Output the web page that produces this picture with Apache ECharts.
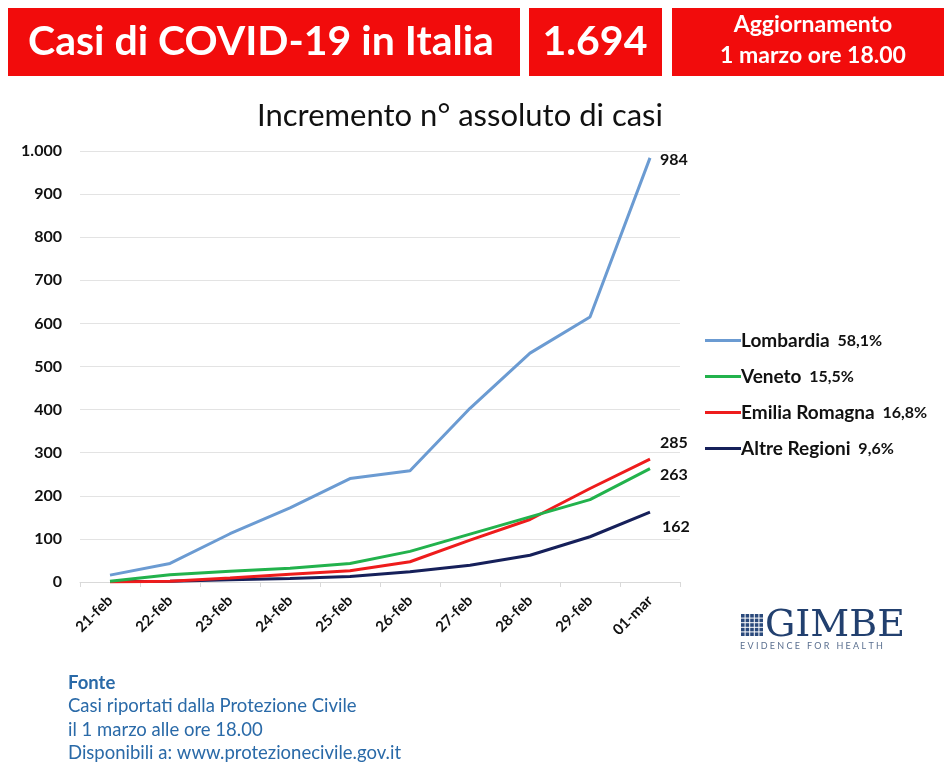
<!DOCTYPE html>
<html><head><meta charset="utf-8">
<script src="https://cdn.jsdelivr.net/npm/echarts@6/dist/echarts.min.js"></script>
<style>html,body{margin:0;padding:0;background:#fff}#c{width:944px;height:764px}</style>
</head><body><div id="c"></div>
<script>
const categories = ['21-feb','22-feb','23-feb','24-feb','25-feb','26-feb','27-feb','28-feb','29-feb','01-mar'];
const lombardia = [16, 43, 112, 172, 240, 258, 403, 531, 615, 984];
const veneto = [2, 17, 25, 32, 43, 71, 111, 151, 191, 263];
const emilia = [0, 2, 9, 18, 26, 47, 97, 145, 217, 285];
const altre = [1, 2, 5, 8, 13, 24, 39, 62, 105, 162];
const seriesNames = ['Lombardia', 'Veneto', 'Emilia Romagna', 'Altre Regioni'];
const shares = ['58,1%', '15,5%', '16,8%', '9,6%'];
const yTicks = [0, 100, 200, 300, 400, 500, 600, 700, 800, 900, 1000];
const headerTitle = 'Casi di COVID-19 in Italia';
const headerTotal = '1.694';
const headerUpdate = ['Aggiornamento', '1 marzo ore 18.00'];
const chartTitle = 'Incremento n° assoluto di casi';
const sourceLines = ['Fonte', 'Casi riportati dalla Protezione Civile', 'il 1 marzo alle ore 18.00', 'Disponibili a: www.protezionecivile.gov.it'];

const colors = ['#6b9bd2', '#22b24c', '#ee1c1c', '#16205a'];
const values = [lombardia, veneto, emilia, altre];
const endOffsets = [[2, 2], [2, 6], [2, -16], [4, 15]];
const F = 'Lato, "Open Sans", sans-serif';

const chart = echarts.init(document.getElementById('c'), null, {renderer: 'canvas'});

const icon = [];
for (let r = 0; r < 5; r++) for (let c = 0; c < 5; c++) {
  icon.push({type: 'rect', shape: {x: 741 + c * 4.6, y: 614 + r * 4.6, width: 3.6, height: 3.6}, style: {fill: '#2b4a7c'}});
}

const option = {
  backgroundColor: '#fff',
  animation: false,
  color: colors,
  title: {
    text: chartTitle, left: 455, top: 95, textAlign: 'center',
    textStyle: {fontFamily: F, fontSize: 31, fontWeight: 'normal', color: '#111'}
  },
  grid: {left: 80, right: 264, top: 151, height: 431},
  legend: {
    orient: 'vertical', left: 700, top: 326, itemGap: 17,
    icon: 'rect', itemWidth: 36, itemHeight: 3,
    data: seriesNames,
    formatter: function (n) { return '{n|' + n + '}{p|  ' + shares[seriesNames.indexOf(n)] + '}'; },
    textStyle: {
      fontFamily: F, color: '#111', padding: [0, 0, 0, -5],
      rich: {
        n: {fontFamily: F, fontSize: 19, fontWeight: 'bold', color: '#111'},
        p: {fontFamily: F, fontSize: 16, fontWeight: 'bold', color: '#111'}
      }
    }
  },
  xAxis: {
    type: 'category', data: categories, boundaryGap: true,
    axisLine: {lineStyle: {color: '#d9d9d9'}},
    axisTick: {show: true, length: 5, lineStyle: {color: '#d9d9d9'}},
    axisLabel: {rotate: 45, fontFamily: F, fontSize: 15, fontWeight: 'bold', color: '#111', margin: 16}
  },
  yAxis: {
    type: 'value', min: 0, max: 1000, interval: 100,
    axisLine: {show: false}, axisTick: {show: false},
    splitLine: {lineStyle: {color: '#e3e3e3'}},
    axisLabel: {
      fontFamily: F, fontSize: 16, fontWeight: 'bold', color: '#111', margin: 18,
      formatter: function (v) { return yTicks.indexOf(v) >= 0 ? (v >= 1000 ? '1.000' : String(v)) : ''; }
    }
  },
  series: values.map(function (d, i) {
    return {
      name: seriesNames[i], type: 'line', data: d, symbol: 'none',
      lineStyle: {width: 3, color: colors[i]},
      z: 10 - i,
      endLabel: {
        show: true, formatter: '{c}', offset: endOffsets[i],
        fontFamily: F, fontSize: 16, fontWeight: 'bold', color: '#111'
      }
    };
  }),
  graphic: [
    {type: 'rect', shape: {x: 8, y: 8, width: 512, height: 68}, style: {fill: '#f20c0c'}},
    {type: 'rect', shape: {x: 529, y: 8, width: 133, height: 68}, style: {fill: '#f20c0c'}},
    {type: 'rect', shape: {x: 672, y: 8, width: 272, height: 68}, style: {fill: '#f20c0c'}},
    {type: 'text', x: 261, y: 42, style: {text: headerTitle, fill: '#fff', font: 'bold 41px ' + F, align: 'center', verticalAlign: 'middle'}},
    {type: 'text', x: 595, y: 42, style: {text: headerTotal, fill: '#fff', font: 'bold 41px ' + F, align: 'center', verticalAlign: 'middle'}},
    {type: 'text', x: 813, y: 25, style: {text: headerUpdate[0], fill: '#fff', font: 'bold 23px ' + F, align: 'center', verticalAlign: 'middle'}},
    {type: 'text', x: 813, y: 56, style: {text: headerUpdate[1], fill: '#fff', font: 'bold 23px ' + F, align: 'center', verticalAlign: 'middle'}},
    {type: 'group', children: icon},
    {type: 'text', x: 765, y: 626, style: {text: 'GIMBE', fill: '#22406f', font: '38px "DejaVu Serif", "Liberation Serif", serif', verticalAlign: 'middle'}},
    {type: 'text', x: 740, y: 646, style: {text: 'E V I D E N C E   F O R   H E A L T H', fill: '#5a6f8f', font: '9px ' + F, verticalAlign: 'middle'}},
    {type: 'text', x: 68, y: 683, style: {text: sourceLines[0], fill: '#2a6aa8', font: 'bold 18.5px ' + F, verticalAlign: 'middle'}},
    {type: 'text', x: 68, y: 706, style: {text: sourceLines[1], fill: '#2a6aa8', font: '18.5px ' + F, verticalAlign: 'middle'}},
    {type: 'text', x: 68, y: 730, style: {text: sourceLines[2], fill: '#2a6aa8', font: '18.5px ' + F, verticalAlign: 'middle'}},
    {type: 'text', x: 68, y: 753, style: {text: sourceLines[3], fill: '#2a6aa8', font: '18.5px ' + F, verticalAlign: 'middle'}}
  ]
};
chart.setOption(option);
</script></body></html>
